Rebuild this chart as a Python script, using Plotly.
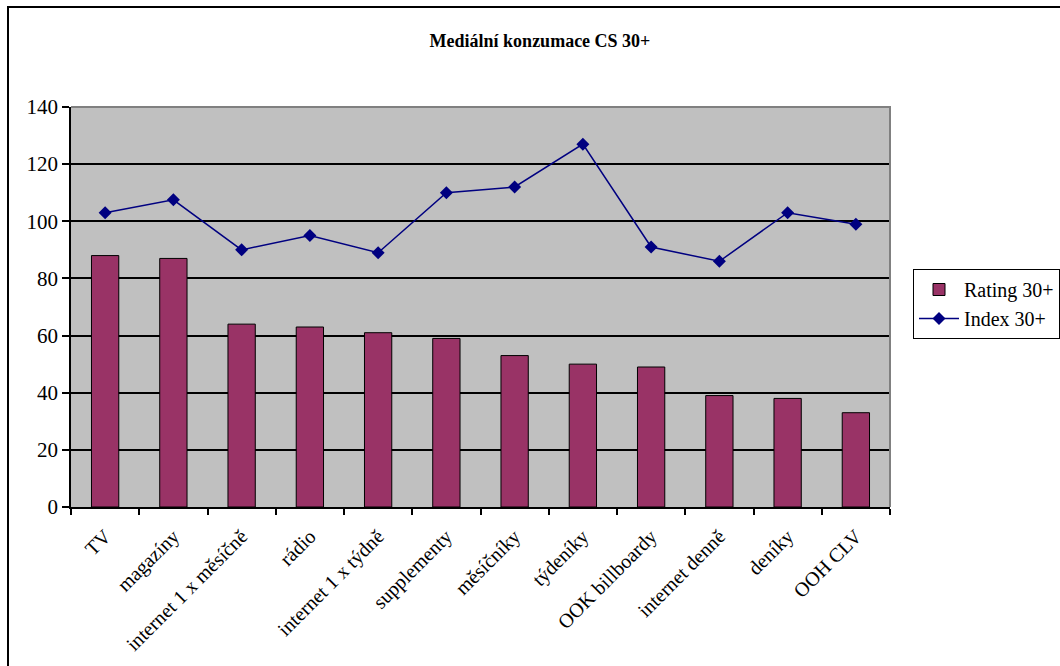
import plotly.graph_objects as go

# Media consumption categories and values
categories = ["TV", "magazíny", "internet 1 x měsíčně", "rádio", "internet 1 x týdně",
              "supplementy", "měsíčníky", "týdeníky", "OOK billboardy", "internet denně",
              "deníky", "OOH CLV"]
rating_30 = [88, 87, 64, 63, 61, 59, 53, 50, 49, 39, 38, 33]
index_30 = [103, 107.5, 90, 95, 89, 110, 112, 127, 91, 86, 103, 99]
y_ticks = [0, 20, 40, 60, 80, 100, 120, 140]

FONT = "Liberation Serif, Times New Roman, serif"
W, H = 1060, 666
ML, MR, MT, MB = 71, 170, 107, 159
PW, PH = W - ML - MR, H - MT - MB

fig = go.Figure()
fig.add_trace(go.Bar(
    x=categories, y=rating_30, name="Rating 30+",
    marker=dict(color="#993366", line=dict(color="#000000", width=1)),
    width=0.4,
))
fig.add_trace(go.Scatter(
    x=categories, y=index_30, name="Index 30+", mode="lines+markers",
    line=dict(color="#000080", width=1.5),
    marker=dict(symbol="diamond", size=10, color="#000080"),
))


def px_x(px):
    return (px - ML) / PW


def px_y(py):
    return (H - MB - py) / PH


shapes = [
    # top and right edges of the plot area in grey
    dict(type="path", xref="paper", yref="paper",
         path="M 0,1 L 1,1 L 1,0",
         line=dict(color="#808080", width=2), layer="above"),
    # outer chart border (left and top edges visible)
    dict(type="rect", xref="paper", yref="paper",
         x0=px_x(8), y0=px_y(680), x1=px_x(1080), y1=px_y(7),
         line=dict(color="#000000", width=2)),
]

fig.update_layout(
    width=W, height=H,
    margin=dict(l=ML, r=MR, t=MT, b=MB, autoexpand=False),
    paper_bgcolor="white", plot_bgcolor="#C0C0C0",
    font=dict(family=FONT, size=20, color="#000000"),
    title=dict(text="<b>Mediální konzumace CS 30+</b>", x=540 / W, xref="container",
               xanchor="center", y=1 - 41 / H, yref="container", yanchor="middle",
               font=dict(family=FONT, size=18)),
    showlegend=True,
    legend=dict(x=px_x(913), y=px_y(269), xref="paper", yref="paper",
                xanchor="left", yanchor="top",
                bordercolor="#000000", borderwidth=1, bgcolor="white",
                font=dict(family=FONT, size=20), itemwidth=40),
    shapes=shapes,
)
fig.update_xaxes(
    type="category", range=[-0.5, len(categories) - 0.5],
    tickangle=-45, tickson="boundaries",
    ticks="outside", ticklen=6, tickcolor="#000000", tickwidth=1.5,
    showline=True, linecolor="#000000", linewidth=1.5,
    showgrid=False, tickfont=dict(family=FONT, size=20),
    ticklabelstandoff=8,
)
fig.update_yaxes(
    range=[0, 140], tickvals=y_ticks, ticks="outside", ticklen=7,
    tickcolor="#000000", tickwidth=1.5, showline=True, linecolor="#000000",
    linewidth=1.5, showgrid=True, gridcolor="#000000", gridwidth=1.5,
    zeroline=False, tickfont=dict(family=FONT, size=21),
)

fig.write_html("out.html")
